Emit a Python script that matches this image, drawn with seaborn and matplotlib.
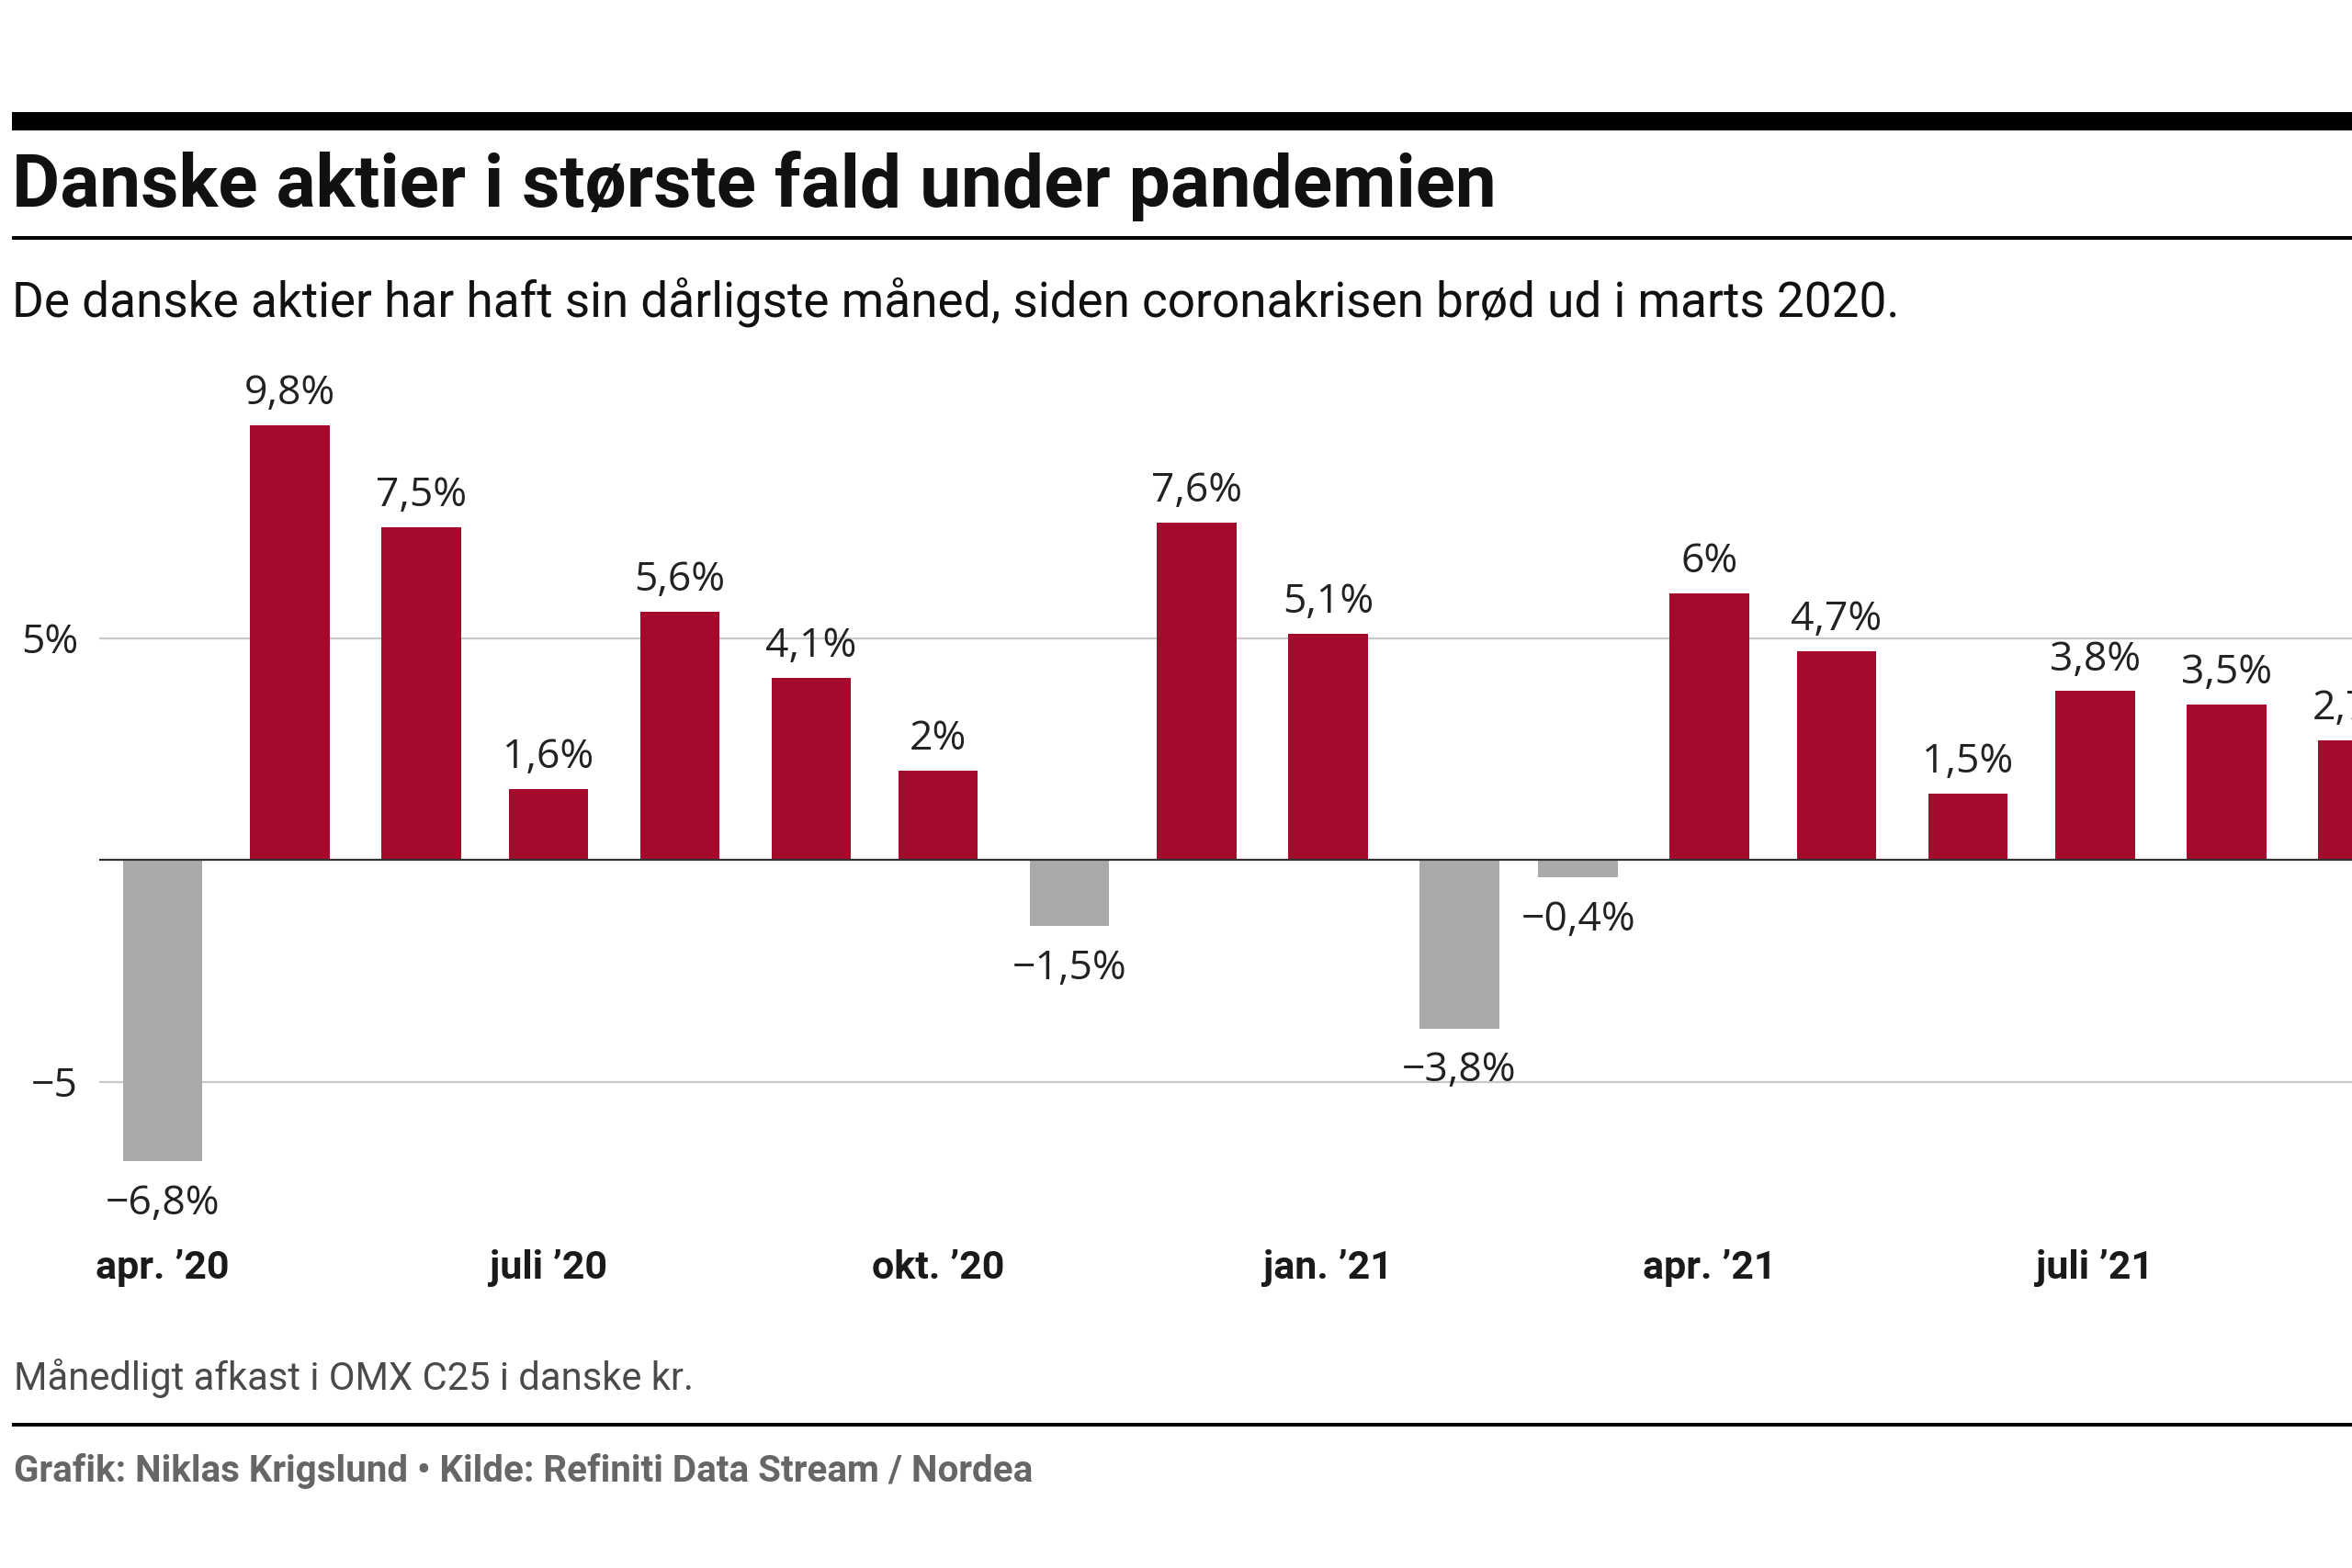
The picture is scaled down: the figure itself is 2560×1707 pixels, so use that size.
import matplotlib
matplotlib.use("Agg")
import matplotlib.pyplot as plt
import matplotlib.patches as mpatches
import numpy as np
import pandas as pd
import seaborn as sns

# ---------------- data ----------------
months = ["2020-04-01", "2020-05-01", "2020-06-01", "2020-07-01", "2020-08-01",
          "2020-09-01", "2020-10-01", "2020-11-01", "2020-12-01", "2021-01-01",
          "2021-02-01", "2021-03-01", "2021-04-01", "2021-05-01", "2021-06-01",
          "2021-07-01", "2021-08-01", "2021-09-01"]
values = [-6.8, 9.8, 7.5, 1.6, 5.6, 4.1, 2.0, -1.5, 7.6, 5.1,
          -3.8, -0.4, 6.0, 4.7, 1.5, 3.8, 3.5, 2.7]
tick_months = ["2020-04-01", "2020-07-01", "2020-10-01",
               "2021-01-01", "2021-04-01", "2021-07-01"]
tick_labels = ["apr. \u201920", "juli \u201920", "okt. \u201920",
               "jan. \u201921", "apr. \u201921", "juli \u201921"]
ytick_values = [-5, 5]
ytick_labels = ["\u22125", "5%"]

TITLE = "Danske aktier i største fald under pandemien"
SUBTITLE = "De danske aktier har haft sin dårligste måned, siden coronakrisen brød ud i marts 2020."
NOTE = "Månedligt afkast i OMX C25 i danske kr."
FOOTER = "Grafik: Niklas Krigslund \u2022 Kilde: Refiniti Data Stream / Nordea"

RED = "#A50A2C"
GRAY = "#AAAAAA"

# ---------------- setup ----------------
sns.set_style("white")
plt.rcParams["font.family"] = ["Roboto", "DejaVu Sans"]
W, H = 2560, 1707
fig = plt.figure(figsize=(W / 100, H / 100), dpi=100)
fig.patch.set_facecolor("white")

def fy(y):
    return 1 - y / H

base = pd.Timestamp(months[0])
df = pd.DataFrame({"month": pd.to_datetime(months), "value": values})
df["day"] = (df["month"] - base).dt.days
df["sign"] = np.where(df["value"] >= 0, "pos", "neg")
tick_days = [(pd.Timestamp(m) - base).days for m in tick_months]

# axes geometry (axes extends beyond right edge -> cropped like the original)
x_left_px, x_right_px = 108, 2760
ymin, ymax = -8, 11
zero_px, unit_px = 936, 48.3
top_px = zero_px - ymax * unit_px
bot_px = zero_px - ymin * unit_px
ax = fig.add_axes([x_left_px / W, fy(bot_px), (x_right_px - x_left_px) / W, (bot_px - top_px) / H])

sns.barplot(data=df, x="day", y="value", hue="sign",
            palette={"pos": RED, "neg": GRAY}, native_scale=True, dodge=False,
            width=0.67, saturation=1, errorbar=None, legend=False,
            linewidth=0, ax=ax, zorder=2)

ax.set_xlim(-15, 560)
ax.set_ylim(ymin, ymax)
for s in ax.spines.values():
    s.set_visible(False)
ax.set_xlabel("")
ax.set_ylabel("")

ax.set_yticks(ytick_values)
ax.set_yticklabels(ytick_labels, fontsize=32, color="#222222",
                   family=["Open Sans", "DejaVu Sans"])
ax.grid(axis="y", color="#C8C8C8", linewidth=1.6)
ax.grid(axis="x", visible=False)
ax.set_axisbelow(True)
ax.axhline(0, color="#333333", linewidth=1.6, zorder=3)

ax.set_xticks(tick_days)
ax.set_xticklabels(tick_labels, fontsize=31, fontweight="bold", color="#1A1A1A")
ax.tick_params(axis="x", length=0, pad=27)
ax.tick_params(axis="y", length=0, pad=16.5)

def fmt(v):
    s = f"{abs(v):.1f}".replace(".", ",")
    if s.endswith(",0"):
        s = s[:-2]
    return ("\u2212" if v < 0 else "") + s + "%"

for d, v in zip(df["day"], df["value"]):
    if v >= 0:
        ax.annotate(fmt(v), (d, v), xytext=(0, 16.5), textcoords="offset points",
                    ha="center", va="baseline", fontsize=32, color="#222222",
                    family=["Open Sans", "DejaVu Sans"], annotation_clip=False)
    else:
        ax.annotate(fmt(v), (d, v), xytext=(0, -17.5), textcoords="offset points",
                    ha="center", va="top", fontsize=32, color="#222222",
                    family=["Open Sans", "DejaVu Sans"], annotation_clip=False)

# ---------------- header / footer ----------------
renderer = fig.canvas.get_renderer()

def fit_text(x, y, s, target_w, size0, **kw):
    t = fig.text(x / W, fy(y), s, fontsize=size0, va="baseline", ha="left", **kw)
    w = t.get_window_extent(renderer).width
    t.set_fontsize(size0 * target_w / w)
    return t

fit_text(13, 225, TITLE, 1615, 58, fontweight="bold", color="#111111")
fit_text(13, 345, SUBTITLE, 2053, 38, color="#111111")
fit_text(15, 1513, NOTE, 739, 30, color="#4A4A4A")
fit_text(15, 1613, FOOTER, 1110, 25, color="#666666", fontweight="bold")

def hrule(y0, y1, x0=13, x1=W):
    fig.add_artist(mpatches.Rectangle((x0 / W, fy(y1)), (x1 - x0) / W, (y1 - y0) / H,
                                      transform=fig.transFigure, color="black", lw=0))

hrule(122, 142)
hrule(257, 261)
hrule(1549, 1553)

fig.savefig("out.png", dpi=100)
